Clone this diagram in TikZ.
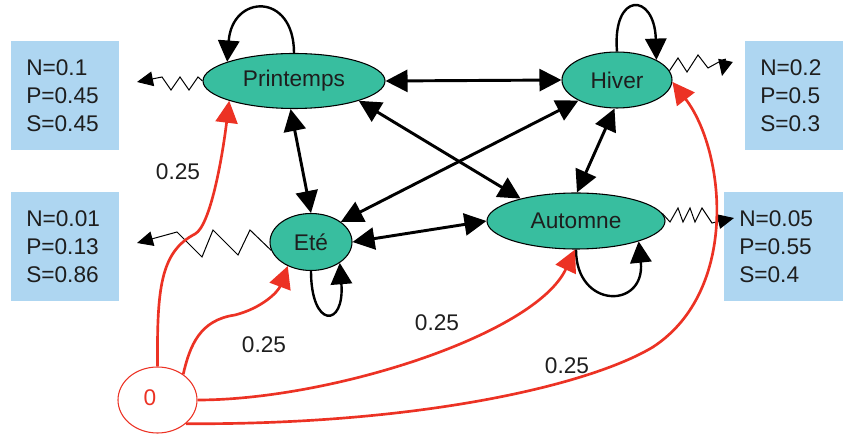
\documentclass[tikz,border=0pt]{standalone}
\usepackage{fontspec}
\setmainfont{Liberation Sans}
\usetikzlibrary{arrows.meta,shapes.geometric}
\definecolor{mteal}{RGB}{56,190,159}
\definecolor{mblue}{RGB}{174,214,241}
\definecolor{mred}{RGB}{236,50,36}
\definecolor{mtext}{RGB}{30,30,30}
\begin{document}
\begin{tikzpicture}[x=0.75pt,y=-0.75pt,
  font=\fontsize{17}{21}\selectfont,
  state/.style={ellipse, draw=black, line width=0.8pt, fill=mteal, inner sep=0pt, text=mtext},
  infobox/.style={rectangle, fill=mblue, anchor=north west, align=left, inner xsep=11.25pt, inner ysep=0pt, minimum height=81.75pt, text=mtext},
  dbl/.style={{Triangle[length=16.5pt,width=16.5pt]}-{Triangle[length=16.5pt,width=16.5pt]}, line width=2.2pt},
  loopst/.style={-{Triangle[length=16pt,width=16pt]}, line width=1.8pt},
  redarr/.style={draw=mred, line width=2pt, -{Triangle[length=16.5pt,width=16.5pt]}},
  zz/.style={-{Triangle[length=12pt,width=11pt]}, line width=0.75pt, line join=miter},
  lbl/.style={text=mtext, inner sep=1pt}]
\useasboundingbox (0,0) rectangle (844,438);

% info boxes
\node[infobox, text width=58.5pt] (b1) at (11,41) {N=0.1\\P=0.45\\S=0.45};
\node[infobox, text width=58.5pt] (b2) at (11,192) {N=0.01\\P=0.13\\S=0.86};
\node[infobox, text width=51pt] (b3) at (745,41) {N=0.2\\P=0.5\\S=0.3};
\node[infobox, text width=66.75pt] (b4) at (724,192) {N=0.05\\P=0.55\\S=0.4};

% states
\node[state, minimum width=136.5pt, minimum height=41.25pt] (P) at (294,81) {Printemps};
\node[state, minimum width=82.5pt, minimum height=42pt] (H) at (617,80) {Hiver};
\node[state, minimum width=61.5pt, minimum height=42.75pt] (E) at (311,242) {Eté};
\node[state, minimum width=133.5pt, minimum height=42pt] (A) at (576,221) {Automne};
\node[ellipse, draw=mred, line width=0.8pt, fill=white, minimum width=59.25pt, minimum height=49.5pt, inner sep=0pt] (O) at (157.5,400) {};
\node[text=mred, inner sep=0pt] (Olabel) at (150,398) {0};

% free ends of the emission arrows
\coordinate (pout) at (137,82);
\coordinate (eout) at (137,243);
\coordinate (hout) at (722,76);
\coordinate (aout) at (734,218);

% transitions
\draw[dbl] (P.east) -- (H.west);
\draw[dbl] (P.263) -- (E.north);
\draw[dbl] (P.343) -- (A.158);
\draw[dbl] (H.208) -- (E.34);
\draw[dbl] (H.265) -- (A.88);
\draw[dbl] (E.east) -- (A.west);

% self loops
\draw[loopst] (P.north) .. controls +(0,-61) and +(5,-68) .. (P.164);
\draw[loopst] (H.north) .. controls +(-5,-60) and +(-2,-68) .. (H.27);
\draw[loopst] (E.south) .. controls +(0,58) and +(5,65) .. (E.324);
\draw[loopst] (A.south) .. controls +(0,60) and +(7,68) .. (A.342);

% emissions
\draw[zz] (P.west) -- (198,77) -- (189,90) -- (180,77) -- (171,90) -- (162,77) -- (pout);
\draw[zz] (E.192) -- (250,230) -- (238,255) -- (213,230) -- (202,257) -- (177,232) -- (eout);
\draw[zz] (H.10) -- (678,58) -- (687,72) -- (698,55) -- (708,68) .. controls (726,58) .. (hout);
\draw[zz] (A.5) -- (670,222) -- (678,208) -- (683,222) -- (690,208) -- (695,222) -- (702,208) -- (712,223) -- (aout);

% initial probabilities
\draw[redarr] (O.north) .. controls (157,290) and (160,252) .. (195,234) .. controls (210,226) and (222,160) .. (P.197);
\draw[redarr] (O.45) .. controls (190,345) and (200,320) .. (235,315) .. controls (262,308) and (278,292) .. (E.226);
\draw[redarr] (O.east) .. controls (330,400) and (535,335) .. (A.268);
\draw[redarr] (O.320) .. controls (420,425) and (590,385) .. (653,347) .. controls (740,290) and (725,150) .. (H.358);

\node[lbl] (l1) at (178,172) {0.25};
\node[lbl] (l2) at (264,345) {0.25};
\node[lbl] (l3) at (437,323) {0.25};
\node[lbl] (l4) at (567,366) {0.25};
\end{tikzpicture}
\end{document}
